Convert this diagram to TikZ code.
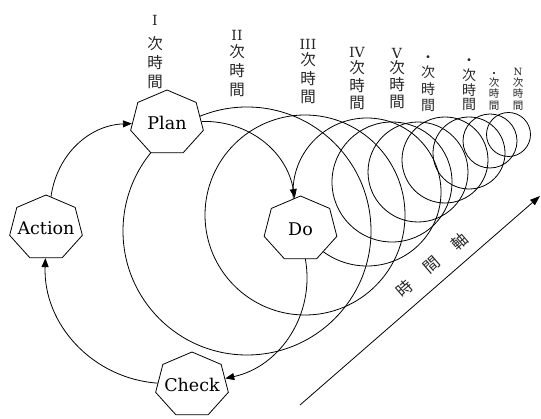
\documentclass[tikz,border=0pt]{standalone}
\usepackage{fontspec}
\newfontfamily\cjk{Noto Sans CJK JP}
\newfontfamily\cent{DejaVu Serif}
\usetikzlibrary{shapes.geometric,arrows.meta}
\begin{document}
\begin{tikzpicture}[x=1pt,y=-1pt,
  ln/.style={line width=0.8pt},
  hept/.style={draw, line width=0.8pt, fill=white, regular polygon, regular polygon sides=7,
    minimum size=66pt, inner sep=0pt, xscale=1.13, transform shape},
  ntext/.style={font=\cent\fontsize{17.5}{18}\selectfont, inner sep=0pt},
  cyc/.style={ln, -{Triangle[length=9pt,width=7pt]}},
  vlab/.style={align=center, inner sep=0pt, anchor=south, text=black!85},
  num/.style={}
]
\useasboundingbox (0,0) rectangle (541,419);

% spiral circles
\draw[ln] (247,231) circle[radius=124pt];
\draw[ln] (305,215) circle[radius=100pt];
\draw[ln] (367,192) circle[radius=74pt];
\draw[ln] (392,182) circle[radius=60pt];
\draw[ln] (418,172) circle[radius=50pt];
\draw[ln] (445,160) circle[radius=43pt];
\draw[ln] (469,153) circle[radius=36pt];
\draw[ln] (490,141) circle[radius=27pt];
\draw[ln] (508.5,134.5) circle[radius=22pt];

% PDCA nodes
\begin{scope}[shift={(167,123)}]\node[hept] (Plan) {};\end{scope}
\begin{scope}[shift={(300.5,229)}]\node[hept] (Do) {};\end{scope}
\begin{scope}[shift={(192,385)}]\node[hept] (Check) {};\end{scope}
\begin{scope}[shift={(46,228)}]\node[hept] (Action) {};\end{scope}
\node[ntext] (PlanT) at (Plan.center) {Plan};
\node[ntext] (DoT) at (Do.center) {Do};
\node[ntext] (CheckT) at (Check.center) {Check};
\node[ntext] (ActionT) at (Action.center) {Action};

\draw[cyc] (Action) to[bend left=40] (Plan);
\draw[cyc] (Plan) to[bend left=41] (Do);
\draw[cyc] (Do) to[bend left=44] (Check);
\draw[cyc] (Check) to[bend left=44] (Action);

% labels
\node[vlab, font=\cjk\fontsize{15.5}{19}\selectfont] (L1) at (155,89) {{\cent\fontsize{14}{14}\selectfont I}\\[5pt]次\\時\\間};
\node[vlab, font=\cjk\fontsize{15.5}{19}\selectfont] (L2) at (237,97) {{\cent\fontsize{14}{14}\selectfont II}\\[-1.5pt]次\\時\\間};
\node[vlab, font=\cjk\fontsize{15.5}{18.5}\selectfont] (L3) at (308,104) {{\cent\fontsize{14}{14}\selectfont III}\\[-2pt]次\\時\\間};
\node[vlab, font=\cjk\fontsize{15.5}{17.5}\selectfont] (L4) at (357,110) {{\cent\fontsize{14}{14}\selectfont IV}\\[-1.5pt]次\\時\\間};
\node[vlab, font=\cjk\fontsize{15.5}{17}\selectfont] (L5) at (397,109) {{\cent\fontsize{14}{14}\selectfont V}\\[-1.5pt]次\\時\\間};
\node[vlab, font=\cjk\fontsize{14}{16.5}\selectfont] (L6) at (428,112) {・\\[-1.5pt]次\\時\\間};
\node[vlab, font=\cjk\fontsize{14}{14.5}\selectfont] (L7) at (469,111) {・\\[0.5pt]次\\時\\間};
\node[vlab, font=\cjk\fontsize{10.5}{11.5}\selectfont] (L8) at (494,110.5) {・\\[-2.5pt]次\\時\\間};
\node[vlab, font=\cjk\fontsize{10.5}{11.5}\selectfont] (L9) at (518,110.5) {{\cent\fontsize{10}{10}\selectfont N}\\[-1pt]次\\時\\間};

% time axis
\coordinate (t0) at (300,405);
\coordinate (t1) at (540,196);
\draw[ln, -{Triangle[length=10pt,width=7pt]}] (t0) -- (t1);
\node[font=\cjk\fontsize{16}{16}\selectfont, text=black!85, rotate=41, inner sep=0pt] (axl) at (432,265) {時\hspace{20pt}間\hspace{20pt}軸};
\end{tikzpicture}
\end{document}
